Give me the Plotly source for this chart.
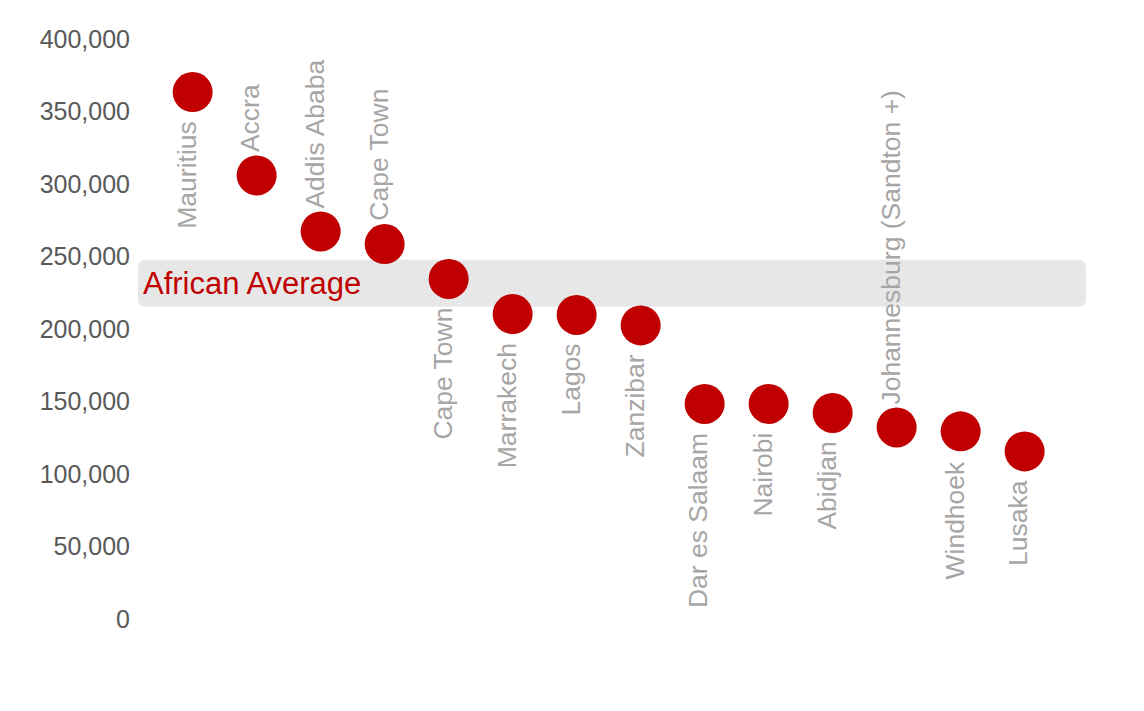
import plotly.graph_objects as go

# Values
CITIES = [
    "Mauritius", "Accra", "Addis Ababa", "Cape Town", "Cape Town",
    "Marrakech", "Lagos", "Zanzibar", "Dar es Salaam", "Nairobi",
    "Abidjan", "Johannesburg (Sandton +)", "Windhoek", "Lusaka",
]
VALUES = [
    363400, 305900, 267300, 258600, 234500,
    210300, 209700, 202500, 148300, 148300,
    142100, 132100, 129400, 115600,
]
# where each city label sits relative to its dot
LABEL_SIDE = [
    "below", "above", "above", "above", "below",
    "below", "below", "below", "below", "below",
    "below", "above", "below", "below",
]
AVG_LOW, AVG_HIGH = 215400, 247800
AVG_LABEL = "African Average"
Y_TICKS = [0, 50000, 100000, 150000, 200000, 250000, 300000, 350000, 400000]

RED = "#C00000"
LABEL_GREY = "#A6A6A6"
TICK_GREY = "#595959"
BAND = "#E7E7E7"
SANS = "Liberation Sans, Arial"

W, H = 1144, 711
# the page adds an 8px body margin, so the plot box is nudged up/left by 8
M_L, M_R, M_T, M_B = 152, 64, 31, 100
PLOT_W = W - M_L - M_R
PX_PER_UNIT = 580 / 400000  # y pixels per value unit

xs = list(range(len(CITIES)))

fig = go.Figure()
fig.add_trace(go.Scatter(
    x=xs, y=VALUES, mode="markers",
    marker=dict(size=40, color=RED, line=dict(width=0)),
    hoverinfo="text", text=CITIES, showlegend=False,
))

# rounded grey band for the African average (x in paper, y in data)
x0 = (130 - M_L) / PLOT_W
x1 = (1078 - M_L) / PLOT_W
rx = 8 / PLOT_W
ry = 8 / PX_PER_UNIT
path = (
    f"M {x0 + rx},{AVG_LOW} L {x1 - rx},{AVG_LOW} Q {x1},{AVG_LOW} {x1},{AVG_LOW + ry} "
    f"L {x1},{AVG_HIGH - ry} Q {x1},{AVG_HIGH} {x1 - rx},{AVG_HIGH} "
    f"L {x0 + rx},{AVG_HIGH} Q {x0},{AVG_HIGH} {x0},{AVG_HIGH - ry} "
    f"L {x0},{AVG_LOW + ry} Q {x0},{AVG_LOW} {x0 + rx},{AVG_LOW} Z"
)
fig.add_shape(type="path", path=path, xref="paper", yref="y",
              fillcolor=BAND, line=dict(width=0), layer="below")

fig.add_annotation(
    text=AVG_LABEL, xref="paper", yref="y",
    x=(133 - M_L) / PLOT_W, y=(AVG_LOW + AVG_HIGH) / 2,
    xanchor="left", yanchor="middle", showarrow=False,
    font=dict(family=SANS, size=31, color=RED),
)

for x, v, name, side in zip(xs, VALUES, CITIES, LABEL_SIDE):
    above = side == "above"
    fig.add_annotation(
        text=name, x=x, y=v, xref="x", yref="y",
        textangle=-90, showarrow=False, borderpad=0,
        yanchor="bottom" if above else "top",
        yshift=22 if above else -28, xshift=-6,
        font=dict(family=SANS, size=26.5, color=LABEL_GREY),
    )

fig.update_layout(
    width=W, height=H,
    margin=dict(l=M_L, r=M_R, t=M_T, b=M_B),
    paper_bgcolor="white", plot_bgcolor="white",
    xaxis=dict(range=[-0.51, 13.99], visible=False, fixedrange=True),
    yaxis=dict(
        range=[0, 400000], tickvals=Y_TICKS, tickformat=",",
        showgrid=False, zeroline=False, showline=False, ticks="",
        ticklabelstandoff=29,
        tickfont=dict(family=SANS, size=25, color=TICK_GREY),
        fixedrange=True,
    ),
)

fig.write_html("out.html")
